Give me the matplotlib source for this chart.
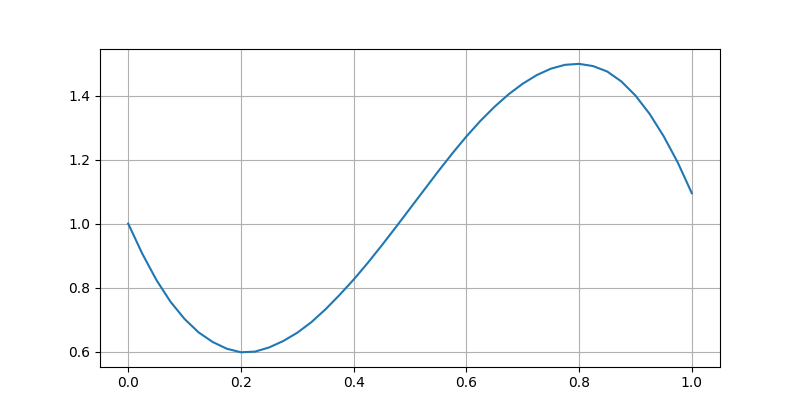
import matplotlib
matplotlib.use("Agg")
import matplotlib.pyplot as plt

x_values = [0.000, 0.025, 0.050, 0.075, 0.100, 0.125, 0.150, 0.175, 0.200, 0.225,
            0.250, 0.275, 0.300, 0.325, 0.350, 0.375, 0.400, 0.425, 0.450, 0.475,
            0.500, 0.525, 0.550, 0.575, 0.600, 0.625, 0.650, 0.675, 0.700, 0.725,
            0.750, 0.775, 0.800, 0.825, 0.850, 0.875, 0.900, 0.925, 0.950, 0.975,
            1.000]
y_values = [1.000, 0.906, 0.824, 0.756, 0.702, 0.660, 0.630, 0.609, 0.598, 0.600,
            0.613, 0.633, 0.659, 0.692, 0.732, 0.777, 0.825, 0.877, 0.932, 0.989,
            1.047, 1.105, 1.163, 1.219, 1.272, 1.321, 1.365, 1.404, 1.437, 1.464,
            1.484, 1.496, 1.499, 1.492, 1.475, 1.444, 1.400, 1.343, 1.273, 1.191,
            1.095]

fig, ax = plt.subplots(figsize=(8, 4.12), dpi=100)
ax.plot(x_values, y_values)
ax.grid(True)
fig.savefig("out.png", dpi=100)
